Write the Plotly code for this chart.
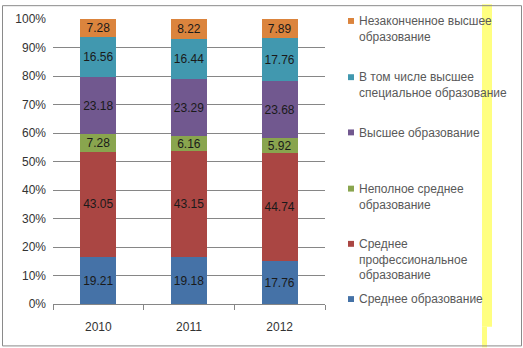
import plotly.graph_objects as go

years = ["2010", "2011", "2012"]
series_names = [
    "Среднее образование",
    "Среднее профессиональное образование",
    "Неполное среднее образование",
    "Высшее образование",
    "В том числе высшее специальное образование",
    "Незаконченное высшее образование",
]
legend_labels = [
    "Среднее образование",
    "Среднее<br>профессиональное<br>образование",
    "Неполное среднее<br>образование",
    "Высшее образование",
    "В том числе высшее<br>специальное образование",
    "Незаконченное высшее<br>образование",
]
srednee = [19.21, 19.18, 17.76]
sred_prof = [43.05, 43.15, 44.74]
nepolnoe = [7.28, 6.16, 5.92]
vysshee = [23.18, 23.29, 23.68]
vys_spec = [16.56, 16.44, 17.76]
nezak = [7.28, 8.22, 7.89]
values = [srednee, sred_prof, nepolnoe, vysshee, vys_spec, nezak]
colors = ["#4572A7", "#AA4643", "#89A54E", "#71588F", "#4198AF", "#DB843D"]

W, H = 523, 348
L, R, T, B = 53, 325, 15, 304  # plot area in pixels


def px_x(p):
    return (p - L) / (R - L)


def px_y(p):
    return (B - p) / (B - T)


fig = go.Figure()
for name, vals, col in zip(series_names, values, colors):
    fig.add_trace(go.Bar(
        x=years, y=vals, name=name,
        marker=dict(color=col, line=dict(width=0)),
        text=[f"{v:.2f}" for v in vals],
        texttemplate="%{text}",
        textposition="inside",
        insidetextanchor="middle",
        textangle=0,
        constraintext="none",
        textfont=dict(color="#1a1a1a", size=12, family="Liberation Sans"),
        showlegend=False,
        hoverinfo="skip",
    ))

shapes = []
annotations = []
# custom legend (top entry = last series)
tops = [17, 74, 130, 187, 243, 299]
for i, idx in enumerate(reversed(range(len(series_names)))):
    cy = tops[i]
    shapes.append(dict(type="rect", xref="paper", yref="paper",
                       x0=px_x(348), x1=px_x(354), y0=px_y(cy - 3), y1=px_y(cy + 3),
                       fillcolor=colors[idx], line=dict(width=0)))
    annotations.append(dict(xref="paper", yref="paper", x=px_x(357), y=px_y(cy - 9),
                            xanchor="left", yanchor="top", align="left",
                            text=legend_labels[idx], showarrow=False,
                            font=dict(size=12, color="#595959", family="Liberation Sans")))

# yellow strip
shapes.append(dict(type="rect", xref="paper", yref="paper", layer="above",
                   x0=px_x(482), x1=px_x(492), y0=px_y(327), y1=px_y(0),
                   fillcolor="#FFFF80", line=dict(width=0)))
shapes.append(dict(type="rect", xref="paper", yref="paper", layer="above",
                   x0=px_x(482), x1=px_x(487), y0=px_y(348), y1=px_y(327),
                   fillcolor="#FFFF80", line=dict(width=0)))
# outer border
shapes.append(dict(type="rect", xref="paper", yref="paper", layer="above",
                   x0=px_x(2.5), x1=px_x(521.5), y0=px_y(346.5), y1=px_y(1.5),
                   line=dict(color="#8a8a8a", width=1), fillcolor="rgba(0,0,0,0)"))

fig.update_layout(
    width=W, height=H,
    margin=dict(l=L, r=W - R, t=T, b=H - B),
    barmode="stack", barnorm="percent", bargap=0.6,
    plot_bgcolor="white", paper_bgcolor="white",
    font=dict(family="Liberation Sans", size=12, color="#333333"),
    shapes=shapes, annotations=annotations,
    xaxis=dict(type="category", showline=True, linecolor="#868686", linewidth=1,
               ticks="outside", tickson="boundaries", ticklen=5, tickcolor="#868686",
               ticklabelstandoff=12,
               showgrid=False, tickfont=dict(size=12, color="#333333")),
    yaxis=dict(range=[0, 100], dtick=10, ticksuffix="%", showgrid=True,
               gridcolor="#868686", gridwidth=1, zeroline=False, showline=False,
               ticks="", ticklabelstandoff=6, tickfont=dict(size=12, color="#333333")),
)

fig.write_html("out.html")
